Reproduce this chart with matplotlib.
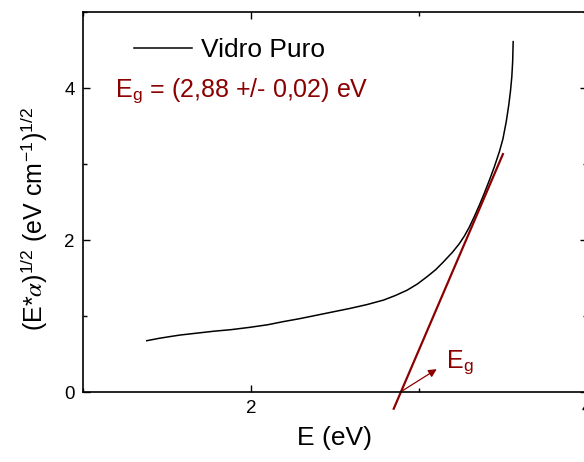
import matplotlib
matplotlib.use('Agg')

import matplotlib.pyplot as plt
from matplotlib.ticker import MultipleLocator

plt.rcParams['font.family'] = ['Liberation Sans', 'DejaVu Sans']
plt.rcParams['mathtext.fontset'] = 'stix'

# Data
energy = [1.38, 1.45, 1.52, 1.58, 1.68, 1.78, 1.88, 1.99, 2.10, 2.19, 2.29,
          2.39, 2.49, 2.59, 2.69, 2.79, 2.86, 2.93, 2.99, 3.05, 3.10, 3.145,
          3.20, 3.24, 3.27, 3.30, 3.33, 3.36, 3.39, 3.42, 3.45, 3.48, 3.50,
          3.52, 3.535, 3.545, 3.553, 3.558, 3.561]
tauc = [0.675, 0.705, 0.73, 0.75, 0.775, 0.80, 0.82, 0.85, 0.885, 0.925, 0.965,
        1.01, 1.055, 1.10, 1.15, 1.21, 1.27, 1.34, 1.42, 1.52, 1.61, 1.71,
        1.84, 1.95, 2.05, 2.17, 2.31, 2.46, 2.62, 2.79, 2.97, 3.17, 3.33,
        3.56, 3.78, 3.96, 4.15, 4.35, 4.61]

fit_x = [2.85, 3.50]
fit_y = [-0.22, 3.13]
eg_value = 2.89

red = '#8b0000'

fig = plt.figure(figsize=(5.84, 4.62), dpi=100)
ax = fig.add_axes([0.142, 0.1515, 0.863, 0.8225])

ax.plot(energy, tauc, color='black', lw=1.1, label='Vidro Puro')
ax.plot(fit_x, fit_y, color=red, lw=1.6, clip_on=False)

ax.annotate('', xy=(3.12, 0.32), xytext=(eg_value, 0.0),
            arrowprops=dict(arrowstyle='-|>', color=red, lw=0.9,
                            mutation_scale=12))
ax.text(3.16, 0.32, r'E$_\mathregular{g}$', color=red, fontsize=18,
        ha='left', va='baseline')
ax.text(1.19, 3.88, r'E$_\mathregular{g}$ = (2,88 +/- 0,02) eV', color=red,
        fontsize=18, ha='left', va='baseline')

ax.set_xlim(1, 4)
ax.set_ylim(0, 5)
ax.xaxis.set_major_locator(MultipleLocator(2))
ax.xaxis.set_minor_locator(MultipleLocator(1))
ax.yaxis.set_major_locator(MultipleLocator(2))
ax.yaxis.set_minor_locator(MultipleLocator(1))
ax.tick_params(which='both', direction='in', top=True, right=True,
               labelsize=13.5, width=1.0, pad=6)
ax.tick_params(which='major', length=5)
ax.tick_params(which='minor', length=3)
for s in ax.spines.values():
    s.set_linewidth(1.2)

ax.set_xlabel('E (eV)', fontsize=19, labelpad=6)
ax.set_ylabel(r'(E*$\alpha$)$^{\mathregular{1/2}}$ (eV cm$^{\mathregular{-1}}$)$^{\mathregular{1/2}}$',
              fontsize=18)
ax.yaxis.set_label_coords(-0.065, 0.455)

ax.legend(frameon=False, loc='upper left', bbox_to_anchor=(0.101, 0.932),
          borderaxespad=0, borderpad=0, handlelength=2.2, handletextpad=0.35,
          fontsize=19)

plt.savefig('out.png', dpi=100)
plt.close(fig)
